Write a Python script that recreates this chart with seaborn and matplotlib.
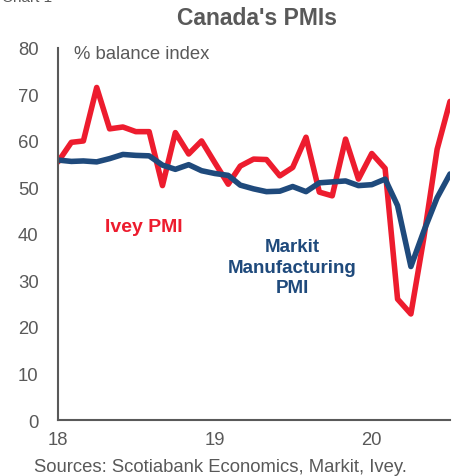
import pandas as pd
import numpy as np
import matplotlib.pyplot as plt
import seaborn as sns

# data, monthly Jan 2018 - Jul 2020
months = pd.date_range("2018-01-01", periods=31, freq="MS")
ivey = [55.5, 59.7, 60.0, 71.5, 62.6, 63.0, 62.0, 62.0, 50.4, 61.8, 57.2, 60.0,
        55.3, 50.7, 54.6, 56.1, 56.0, 52.5, 54.3, 60.8, 49.0, 48.2, 60.4, 51.8,
        57.3, 54.1, 26.0, 22.8, 39.1, 58.2, 68.5]
markit = [55.9, 55.6, 55.7, 55.5, 56.2, 57.1, 56.9, 56.8, 54.8, 53.9, 54.9, 53.6,
          53.0, 52.6, 50.5, 49.7, 49.1, 49.2, 50.2, 49.1, 51.0, 51.2, 51.4, 50.4,
          50.6, 51.8, 46.1, 33.0, 40.6, 47.8, 52.9]
yticks = [0, 10, 20, 30, 40, 50, 60, 70, 80]
year_labels = ["18", "19", "20"]

df = pd.DataFrame({"month": months, "Ivey PMI": ivey, "Markit Manufacturing PMI": markit})
long = df.melt(id_vars="month", var_name="series", value_name="value")

red = "#ED1C2E"
navy = "#1F4A7C"
grey = "#595959"
fs = 13.3

sns.set_style("white")
plt.rcParams['font.family'] = ['Liberation Sans', 'DejaVu Sans']

fig = plt.figure(figsize=(4.59, 4.77), dpi=100)
ax = fig.add_axes([0.1264, 0.1174, 0.854, 0.78])

sns.lineplot(data=long, x="month", y="value", hue="series",
             palette={"Ivey PMI": red, "Markit Manufacturing PMI": navy},
             hue_order=["Ivey PMI", "Markit Manufacturing PMI"],
             linewidth=4.0, ax=ax, legend=False)

ax.set_xlim(months[0], months[-1])
ax.set_ylim(0, 80)
ax.set_yticks(yticks)
ax.set_xticks([months[0], months[12], months[24]])
ax.set_xticklabels(year_labels)
ax.set_xlabel("")
ax.set_ylabel("")

for s in ["top", "right"]:
    ax.spines[s].set_visible(False)
for s in ["left", "bottom"]:
    ax.spines[s].set_color(grey)
    ax.spines[s].set_linewidth(1.5)

ax.tick_params(axis="y", direction="in", length=5, width=1.2, color=grey,
               labelcolor=grey, labelsize=fs, pad=14)
ax.tick_params(axis="x", direction="out", length=5, width=1.2, color=grey,
               labelcolor=grey, labelsize=fs, pad=3)

fig.text(0.56, 0.962, "Canada's PMIs", ha="center", va="center",
         fontsize=16.5, fontweight="bold", color=grey)
fig.text(0.005, 1.005, "Chart 1", ha="left", va="center", fontsize=11, color=grey)

ax.text(0.04, 0.985, "% balance index", transform=ax.transAxes,
        ha="left", va="center", fontsize=fs, color=grey)
ax.text(0.219, 0.519, "Ivey PMI", transform=ax.transAxes, ha="center", va="center",
        fontsize=14, fontweight="bold", color=red)
ax.text(0.597, 0.411, "Markit\nManufacturing\nPMI", transform=ax.transAxes,
        ha="center", va="center", fontsize=13.5, fontweight="bold", color=navy,
        linespacing=1.25)

fig.text(0.075, 0.02, "Sources: Scotiabank Economics, Markit, Ivey.",
         ha="left", va="center", fontsize=fs, color=grey)

plt.savefig("out.png", dpi=100)
